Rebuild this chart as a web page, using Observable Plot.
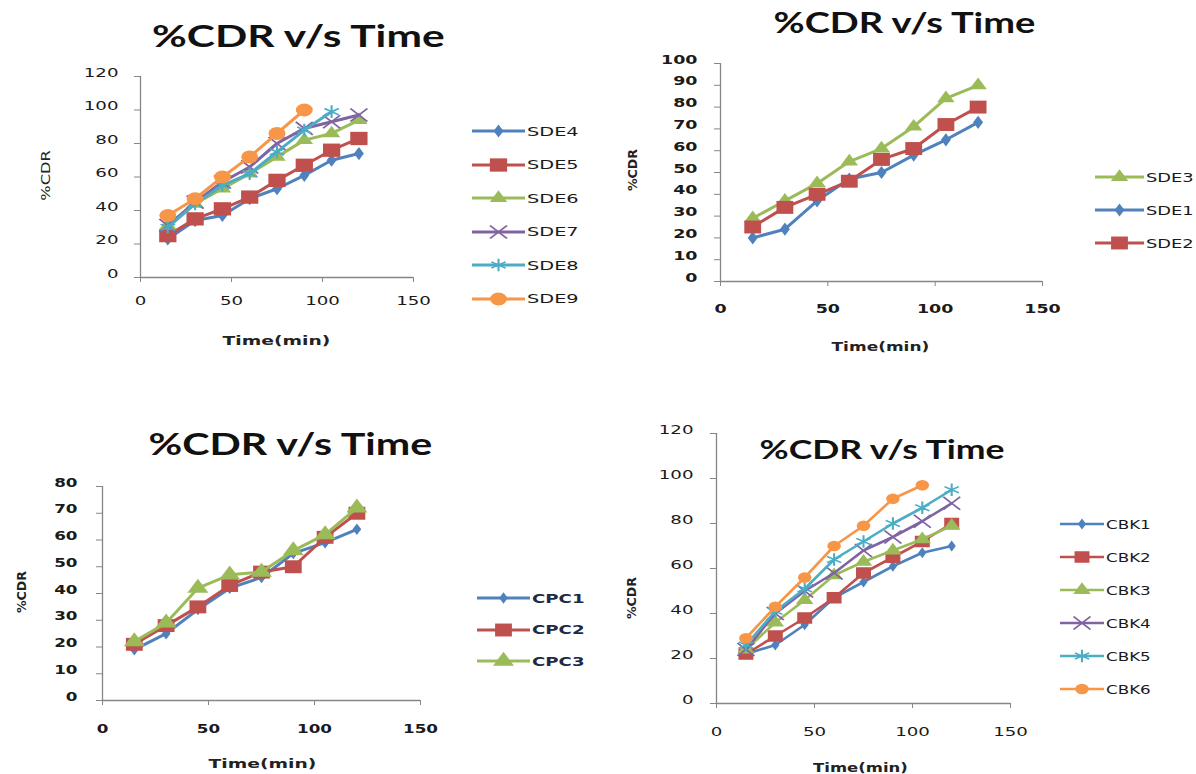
<!DOCTYPE html>
<html><head><meta charset="utf-8">
<script src="https://cdn.jsdelivr.net/npm/d3@7"></script>
<script src="https://cdn.jsdelivr.net/npm/@observablehq/plot@0.6"></script>
<style>
body{margin:0;background:#fff;}
#root{position:relative;width:1196px;height:774px;overflow:hidden;background:#fff;}
.abs{position:absolute;white-space:nowrap;line-height:1;}
.plot{position:absolute;}
</style></head><body><div id="root"></div>
<script>
// ---------------- DATA ----------------
const time = [15, 30, 45, 60, 75, 90, 105, 120];
const xTicks = [0, 50, 100, 150];
const titleText = "%CDR v/s Time";
const xLabelText = "Time(min)";
const yLabelText = "%CDR";

// Panel A (top-left)
const namesA = ["SDE4", "SDE5", "SDE6", "SDE7", "SDE8", "SDE9"];
const SDE4 = [23, 34, 37, 47, 53, 61, 70, 74];
const SDE5 = [25, 35, 41, 48, 58, 67, 76, 83];
const SDE6 = [31, 44, 53, 62, 72, 82, 86, 94];
const SDE7 = [31, 45, 57, 66, 80, 89, 93, 97];
const SDE8 = [30, 44, 55, 62, 75, 88, 99];
const SDE9 = [37, 47, 60, 72, 86, 100];
const yTicksA = [0, 20, 40, 60, 80, 100, 120];

// Panel B (top-right)
const namesB = ["SDE3", "SDE1", "SDE2"];
const SDE3 = [29, 37, 45, 55, 61, 71, 84, 90];
const SDE1 = [20, 24, 37, 47, 50, 58, 65, 73];
const SDE2 = [25, 34, 40, 46, 56, 61, 72, 80];
const yTicksB = [0, 10, 20, 30, 40, 50, 60, 70, 80, 90, 100];

// Panel C (bottom-left)
const namesC = ["CPC1", "CPC2", "CPC3"];
const CPC1 = [19, 25, 34, 42, 46, 55, 59, 64];
const CPC2 = [21, 28, 35, 43, 48, 50, 61, 70];
const CPC3 = [22, 29, 42, 47, 48, 56, 62, 72];
const yTicksC = [0, 10, 20, 30, 40, 50, 60, 70, 80];

// Panel D (bottom-right)
const namesD = ["CBK1", "CBK2", "CBK3", "CBK4", "CBK5", "CBK6"];
const CBK1 = [22, 26, 35, 47, 54, 61, 67, 70];
const CBK2 = [22, 30, 38, 47, 58, 65, 72, 80];
const CBK3 = [24, 36, 46, 57, 63, 68, 73, 79];
const CBK4 = [24, 40, 50, 58, 68, 74, 81, 89];
const CBK5 = [26, 41, 51, 64, 72, 80, 87, 95];
const CBK6 = [29, 43, 56, 70, 79, 91, 97];
const yTicksD = [0, 20, 40, 60, 80, 100, 120];

// ---------------- STYLE ----------------
const C = {blue:"#4F81BD", red:"#C0504D", green:"#9BBB59", purple:"#8064A2", teal:"#4BACC6", orange:"#F79646"};
const styleSix = [
  {color:C.blue, symbol:"diamond"}, {color:C.red, symbol:"square"}, {color:C.green, symbol:"triangle"},
  {color:C.purple, symbol:"times"}, {color:C.teal, symbol:"asterisk"}, {color:C.orange, symbol:"circle"}
];
const styleB = [{color:C.green, symbol:"triangle"}, {color:C.blue, symbol:"diamond"}, {color:C.red, symbol:"square"}];
const styleC = [{color:C.blue, symbol:"diamond"}, {color:C.red, symbol:"square"}, {color:C.green, symbol:"triangle"}];
const SX = 1.4; // horizontal stretch of the original picture
const axisGray = "#868686";
const textColor = "#1a1a1a";

const root = document.getElementById("root");

function stretch(el, sx) {
  let tr = el.getAttribute("transform") || "";
  const tag = el.tagName.toLowerCase();
  if (tag === "circle") {
    const cx = +el.getAttribute("cx") || 0, cy = +el.getAttribute("cy") || 0;
    el.setAttribute("cx", 0); el.setAttribute("cy", 0);
    tr += ` translate(${cx},${cy})`;
  } else if (tag === "text") {
    const x = el.getAttribute("x"), y = el.getAttribute("y");
    if (x !== null || y !== null) {
      el.removeAttribute("x"); el.removeAttribute("y");
      tr += ` translate(${+x || 0},${+y || 0})`;
    }
  }
  el.setAttribute("transform", tr + ` scale(${sx},1)`);
}

function addText(str, cx, cy, o) {
  const s = document.createElement("span");
  s.className = "abs";
  s.textContent = str;
  s.style.fontFamily = o.font;
  s.style.fontSize = o.size + "px";
  s.style.fontWeight = o.weight || "normal";
  s.style.color = o.color || textColor;
  root.appendChild(s);
  const w = s.offsetWidth, h = s.offsetHeight;
  s.style.left = (cx - w / 2) + "px";
  s.style.top = (cy - h / 2) + "px";
  s.style.transformOrigin = "50% 50%";
  s.style.transform = (o.rotate ? "rotate(-90deg) " : "") + `scaleX(${o.width / w})`;
  return s;
}

const symbolTypes = {circle:d3.symbolCircle, square:d3.symbolSquare, triangle:d3.symbolTriangle,
  diamond:d3.symbolDiamond, times:d3.symbolTimes, asterisk:d3.symbolAsterisk};
const strokeSymbols = new Set(["times", "asterisk"]);

function panel(cfg) {
  const marks = [
    Plot.ruleY([0], {stroke: axisGray, strokeWidth: 1.3}),
    Plot.ruleX([0], {stroke: axisGray, strokeWidth: 1.3}),
    Plot.axisY(cfg.yTicks, {tickSize: 6, tickPadding: cfg.yPad, stroke: axisGray, fill: textColor,
      fontSize: cfg.fs, fontWeight: cfg.fw, label: null}),
    Plot.axisX(xTicks, {tickSize: 5, tickPadding: cfg.xPad, stroke: axisGray, fill: textColor,
      fontSize: cfg.fs, fontWeight: cfg.fw, label: null})
  ];
  cfg.series.forEach((s) => {
    const rows = s.values.map((v, i) => ({t: time[i], v}));
    marks.push(Plot.line(rows, {x: "t", y: "v", stroke: s.color, strokeWidth: cfg.lw}));
    const r = cfg.r[s.symbol];
    if (strokeSymbols.has(s.symbol)) {
      marks.push(Plot.dot(rows, {x: "t", y: "v", symbol: s.symbol, r, stroke: s.color, strokeWidth: 1.6, fill: "none"}));
    } else {
      marks.push(Plot.dot(rows, {x: "t", y: "v", symbol: s.symbol, r, fill: s.color, stroke: "none"}));
    }
  });
  const svg = Plot.plot({
    width: cfg.w, height: cfg.h,
    marginLeft: cfg.m[0], marginTop: cfg.m[1], marginRight: cfg.m[2], marginBottom: cfg.m[3],
    x: {domain: [0, 150]},
    y: {domain: cfg.yDomain},
    style: {fontFamily: "DejaVu Sans", background: "transparent", overflow: "visible", color: textColor},
    marks
  });
  svg.querySelectorAll('g[aria-label="y-axis tick label"] text, g[aria-label="x-axis tick label"] text')
    .forEach(t => stretch(t, SX));
  svg.querySelectorAll('g[aria-label="dot"] > *').forEach(p => stretch(p, 1.3));
  const wrap = document.createElement("div");
  wrap.className = "plot";
  wrap.style.left = cfg.left + "px";
  wrap.style.top = cfg.top + "px";
  wrap.appendChild(svg);
  root.appendChild(wrap);

  // legend
  const L = cfg.legend;
  cfg.series.forEach((s, i) => {
    const y = L.y0 + i * L.dy;
    const ns = "http://www.w3.org/2000/svg";
    const sw = document.createElementNS(ns, "svg");
    sw.setAttribute("width", L.sw); sw.setAttribute("height", 24);
    sw.style.position = "absolute"; sw.style.left = L.x + "px"; sw.style.top = (y - 12) + "px";
    sw.style.overflow = "visible";
    const ln = document.createElementNS(ns, "line");
    ln.setAttribute("x1", 0); ln.setAttribute("x2", L.sw); ln.setAttribute("y1", 12); ln.setAttribute("y2", 12);
    ln.setAttribute("stroke", s.color); ln.setAttribute("stroke-width", cfg.lw);
    sw.appendChild(ln);
    const r = cfg.r[s.symbol];
    const p = document.createElementNS(ns, "path");
    p.setAttribute("d", d3.symbol(symbolTypes[s.symbol], Math.PI * r * r)());
    p.setAttribute("transform", `translate(${L.sw / 2},12) scale(1.3,1)`);
    if (strokeSymbols.has(s.symbol)) { p.setAttribute("fill", "none"); p.setAttribute("stroke", s.color); p.setAttribute("stroke-width", 1.6); }
    else p.setAttribute("fill", s.color);
    sw.appendChild(p);
    root.appendChild(sw);
    const t = document.createElement("span");
    t.className = "abs";
    t.textContent = s.name;
    t.style.fontFamily = "DejaVu Sans"; t.style.fontSize = L.fs + "px"; t.style.fontWeight = L.fw;
    t.style.color = L.color || textColor;
    root.appendChild(t);
    const w = t.offsetWidth, h = t.offsetHeight;
    t.style.left = (L.x + L.sw + 2) + "px"; t.style.top = (y - h / 2) + "px";
    t.style.transformOrigin = "0 50%"; t.style.transform = `scaleX(${L.tw / w})`;
  });

  // titles
  addText(titleText, cfg.title[0], cfg.title[1], {font: "Lato", size: cfg.title[3], weight: 700, width: cfg.title[2], color: "#111"});
  addText(xLabelText, cfg.xl[0], cfg.xl[1], {font: "DejaVu Sans", size: 13, weight: "bold", width: cfg.xl[2], color: "#222"});
  addText(yLabelText, cfg.yl[0], cfg.yl[1], {font: "DejaVu Sans", size: cfg.yl[3], weight: cfg.yl[4], width: cfg.yl[2], rotate: true, color: "#222"});
}

function mk(names, valuesList, styles) {
  return names.map((n, i) => ({name: n, values: valuesList[i], color: styles[i].color, symbol: styles[i].symbol}));
}

panel({
  series: mk(namesA, [SDE4, SDE5, SDE6, SDE7, SDE8, SDE9], styleSix),
  left: 80, top: 66, w: 353, h: 251, m: [60, 10, 20, 40],
  yDomain: [0, 120], yTicks: yTicksA, fs: 13, fw: "normal", yPad: 16, xPad: 22, lw: 3,
  r: {diamond: 4, square: 7.5, triangle: 5, times: 6, asterisk: 6, circle: 6.5},
  legend: {x: 472, y0: 131, dy: 33.5, sw: 53, fs: 13, fw: "normal", tw: 52},
  title: [298, 35, 293, 30], xl: [276, 340, 108], yl: [45, 175, 50, 13, "normal"]
});
panel({
  series: mk(namesB, [SDE3, SDE1, SDE2], styleB),
  left: 670, top: 53, w: 392, h: 268, m: [50, 10, 20, 40],
  yDomain: [0, 100], yTicks: yTicksB, fs: 12.5, fw: "bold", yPad: 17, xPad: 26, lw: 3,
  r: {diamond: 4, square: 7.3, triangle: 5},
  legend: {x: 1095, y0: 177, dy: 33, sw: 49, fs: 13, fw: "normal", tw: 48},
  title: [904, 22, 262, 28], xl: [880, 346, 98], yl: [633, 170, 42, 12, "bold"]
});
panel({
  series: mk(namesC, [CPC1, CPC2, CPC3], styleC),
  left: 40, top: 476, w: 400, h: 264, m: [62, 10, 20, 40],
  yDomain: [0, 80], yTicks: yTicksC, fs: 12, fw: "bold", yPad: 19, xPad: 27, lw: 3,
  r: {diamond: 3.5, square: 7.3, triangle: 6},
  legend: {x: 477, y0: 598, dy: 31.5, sw: 53, fs: 13, fw: "bold", tw: 53, color: "#1f2a44"},
  title: [290, 443, 284, 30], xl: [262, 763, 108], yl: [22, 592, 42, 12, "bold"]
});
panel({
  series: mk(namesD, [CBK1, CBK2, CBK3, CBK4, CBK5, CBK6], styleSix),
  left: 660, top: 423, w: 370, h: 320, m: [56, 10, 20, 40],
  yDomain: [0, 120], yTicks: yTicksD, fs: 13, fw: "normal", yPad: 17, xPad: 27, lw: 2.6,
  r: {diamond: 3.3, square: 6.5, triangle: 5, times: 6, asterisk: 6, circle: 5.2},
  legend: {x: 1060, y0: 524, dy: 33, sw: 44, fs: 13, fw: "normal", tw: 45},
  title: [882, 448, 245, 27], xl: [860, 767, 95], yl: [632, 598, 42, 12, "bold"]
});
</script>
</body></html>
